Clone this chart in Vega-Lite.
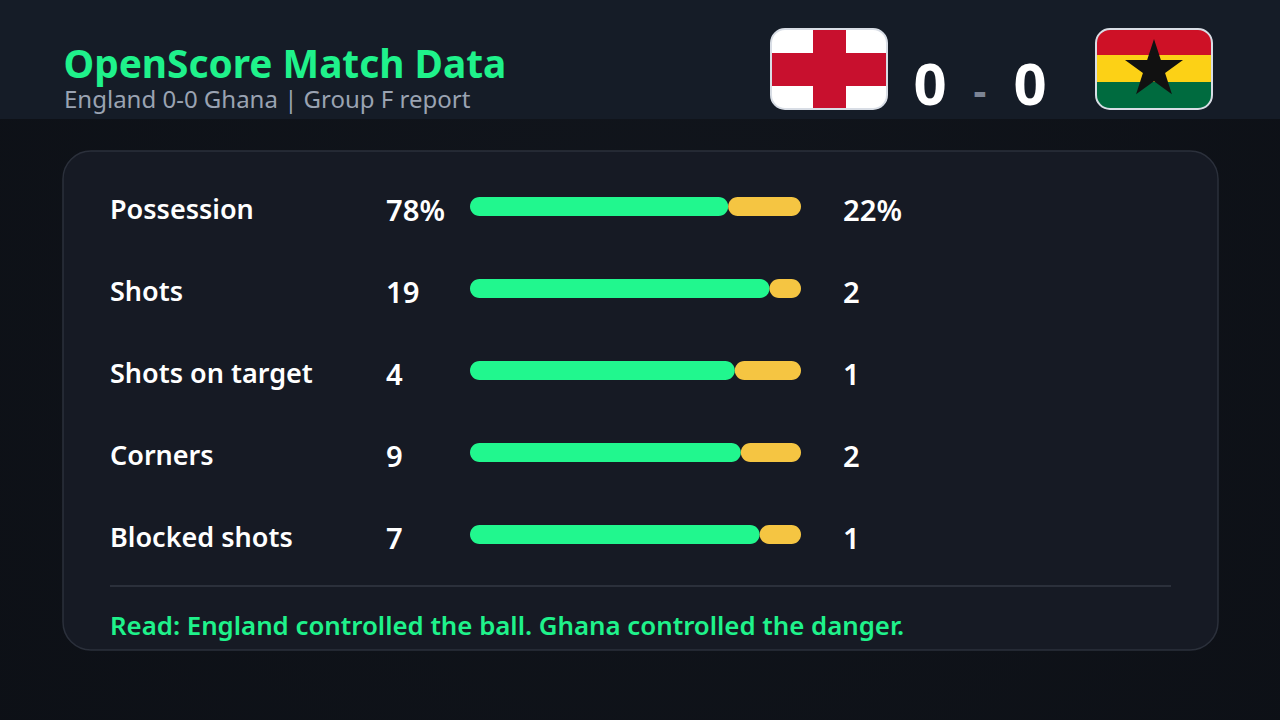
{
"$schema":"https://vega.github.io/schema/vega-lite/v6.json",
"width":1280,"height":720,"padding":0,"autosize":{"type":"fit","contains":"padding"},
"background":"#0f131a",
"config":{"view":{"stroke":null},"axis":{"domain":false,"grid":false,"ticks":false,"labels":false,"title":null},"text":{"font":"Noto Sans"}},
"datasets":{"stats":[
{"stat":"Possession","team":"England","value":78,"display":"78%"},
{"stat":"Possession","team":"Ghana","value":22,"display":"22%"},
{"stat":"Shots","team":"England","value":19,"display":"19"},
{"stat":"Shots","team":"Ghana","value":2,"display":"2"},
{"stat":"Shots on target","team":"England","value":4,"display":"4"},
{"stat":"Shots on target","team":"Ghana","value":1,"display":"1"},
{"stat":"Corners","team":"England","value":9,"display":"9"},
{"stat":"Corners","team":"Ghana","value":2,"display":"2"},
{"stat":"Blocked shots","team":"England","value":7,"display":"7"},
{"stat":"Blocked shots","team":"Ghana","value":1,"display":"1"}
]},
"resolve":{"scale":{"x":"independent","y":"independent"}},
"layer":[
{"data":{"values":[{}]},
 "encoding":{"x":{"datum":0,"type":"quantitative","axis":null,"scale":{"domain":[0,1280],"nice":false,"zero":false}},"y":{"datum":0,"type":"quantitative","axis":null,"scale":{"domain":[720,0],"nice":false,"zero":false}}},
 "layer":[
 {"mark":{"type":"rect","fill":{"gradient":"radial","x1":0.5,"y1":0.45,"r1":0,"x2":0.5,"y2":0.45,"r2":0.75,"stops":[{"offset":0,"color":"#11151c"},{"offset":1,"color":"#0c0f15"}]}},"encoding":{"x2":{"datum":1280},"y2":{"datum":720}}},
 {"mark":{"type":"rect","fill":"#151c27"},"encoding":{"x2":{"datum":1280},"y2":{"datum":119}}},
 {"mark":{"type":"rect","fill":"#161a24","stroke":"#2b303b","strokeWidth":1.5,"cornerRadius":28},"encoding":{"x":{"datum":63},"x2":{"datum":1218},"y":{"datum":151},"y2":{"datum":650}}},
 {"mark":{"type":"rule","stroke":"#2b303b","strokeWidth":2},"encoding":{"x":{"datum":110},"x2":{"datum":1171},"y":{"datum":586}}},
 {"mark":{"type":"rect","fill":"#ffffff","cornerRadius":14},"encoding":{"x":{"datum":771},"x2":{"datum":887},"y":{"datum":29},"y2":{"datum":109}}},
 {"mark":{"type":"rect","fill":"#c8102e"},"encoding":{"x":{"datum":813},"x2":{"datum":846},"y":{"datum":29},"y2":{"datum":109}}},
 {"mark":{"type":"rect","fill":"#c8102e"},"encoding":{"x":{"datum":771},"x2":{"datum":887},"y":{"datum":53},"y2":{"datum":86}}},
 {"mark":{"type":"rect","fill":null,"stroke":"#d8dde5","strokeWidth":2,"cornerRadius":14},"encoding":{"x":{"datum":771},"x2":{"datum":887},"y":{"datum":29},"y2":{"datum":109}}},
 {"mark":{"type":"rect","fill":"#ce1126","cornerRadiusTopLeft":14,"cornerRadiusTopRight":14},"encoding":{"x":{"datum":1096},"x2":{"datum":1212},"y":{"datum":29},"y2":{"datum":55}}},
 {"mark":{"type":"rect","fill":"#fcd116"},"encoding":{"x":{"datum":1096},"x2":{"datum":1212},"y":{"datum":55},"y2":{"datum":82}}},
 {"mark":{"type":"rect","fill":"#006b3f","cornerRadiusBottomLeft":14,"cornerRadiusBottomRight":14},"encoding":{"x":{"datum":1096},"x2":{"datum":1212},"y":{"datum":82},"y2":{"datum":109}}},
 {"mark":{"type":"rect","fill":null,"stroke":"#d8dde5","strokeWidth":2,"cornerRadius":14},"encoding":{"x":{"datum":1096},"x2":{"datum":1212},"y":{"datum":29},"y2":{"datum":109}}},
 {"mark":{"type":"point","filled":true,"fill":"#111111","opacity":1,"strokeWidth":0,"size":3721,"shape":"M0,-1 L0.225,-0.309 L0.951,-0.309 L0.363,0.118 L0.588,0.809 L0,0.382 L-0.588,0.809 L-0.363,0.118 L-0.951,-0.309 L-0.225,-0.309 Z"},"encoding":{"x":{"datum":1154},"y":{"datum":69.5}}},
 {"mark":{"type":"text","text":"OpenScore Match Data","fontSize":38.8,"fontWeight":"bold","fill":"#1ff28b","align":"left","baseline":"alphabetic"},"encoding":{"x":{"datum":63.5},"y":{"datum":78}}},
 {"mark":{"type":"text","text":"England 0-0 Ghana | Group F report","fontSize":24,"fill":"#9aa3b2","align":"left","baseline":"alphabetic"},"encoding":{"x":{"datum":64},"y":{"datum":108}}},
 {"mark":{"type":"text","text":"0","fontSize":58,"fontWeight":"bold","fill":"#ffffff","align":"center","baseline":"alphabetic"},"encoding":{"x":{"datum":930},"y":{"datum":105}}},
 {"mark":{"type":"text","text":"-","fontSize":40,"fontWeight":"bold","fill":"#7c8494","align":"center","baseline":"alphabetic"},"encoding":{"x":{"datum":980},"y":{"datum":105}}},
 {"mark":{"type":"text","text":"0","fontSize":58,"fontWeight":"bold","fill":"#ffffff","align":"center","baseline":"alphabetic"},"encoding":{"x":{"datum":1030},"y":{"datum":105}}},
 {"mark":{"type":"text","text":"Read: England controlled the ball. Ghana controlled the danger.","fontSize":25.8,"fontWeight":600,"fill":"#1ff28b","align":"left","baseline":"alphabetic"},"encoding":{"x":{"datum":110},"y":{"datum":635}}}
 ]},
{"data":{"name":"stats"},
 "transform":[{"stack":"value","groupby":["stat"],"sort":[{"field":"team","order":"ascending"}],"offset":"normalize","as":["share_start","share_end"]}],
 "mark":{"type":"bar","height":19,"cornerRadius":9.5},
 "encoding":{
  "x":{"field":"share_start","type":"quantitative","axis":null,"scale":{"domain":[0,1],"range":[470,801],"nice":false}},
  "x2":{"field":"share_end"},
  "y":{"field":"stat","type":"nominal","axis":null,"scale":{"type":"point","padding":0,"domain":["Possession","Shots","Shots on target","Corners","Blocked shots"],"range":[206.5,534.5]}},
  "color":{"field":"team","type":"nominal","legend":null,"scale":{"domain":["England","Ghana"],"range":["#21f78e","#f5c542"]}}
 }},
{"data":{"name":"stats"},
 "mark":{"type":"text","fontSize":29.2,"fontWeight":600,"fill":"#ffffff","align":"left","baseline":"alphabetic"},
 "encoding":{
  "x":{"field":"team","type":"nominal","axis":null,"scale":{"type":"point","padding":0,"domain":["England","Ghana"],"range":[386,843]}},
  "y":{"field":"stat","type":"nominal","axis":null,"scale":{"type":"point","padding":0,"domain":["Possession","Shots","Shots on target","Corners","Blocked shots"],"range":[221,549]}},
  "text":{"field":"display"}
 }},
{"data":{"name":"stats"},
 "transform":[{"filter":"datum.team==='England'"}],
 "mark":{"type":"text","fontSize":27,"fontWeight":600,"fill":"#ffffff","align":"left","baseline":"alphabetic"},
 "encoding":{
  "x":{"datum":110,"type":"quantitative","axis":null,"scale":{"domain":[0,1280],"nice":false,"zero":false}},
  "y":{"field":"stat","type":"nominal","axis":null,"scale":{"type":"point","padding":0,"domain":["Possession","Shots","Shots on target","Corners","Blocked shots"],"range":[218.5,546.5]}},
  "text":{"field":"stat"}
 }}
]
}
